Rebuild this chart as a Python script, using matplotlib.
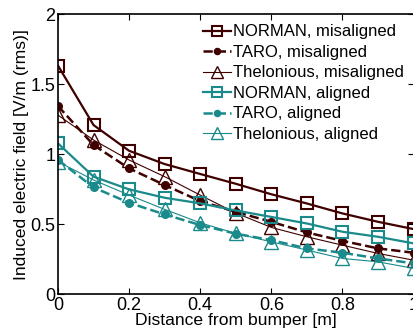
import numpy as np
import matplotlib.pyplot as plt

plt.rcParams['font.family'] = ['Liberation Sans', 'DejaVu Sans']

distance = [0, 0.1, 0.2, 0.3, 0.4, 0.5, 0.6, 0.7, 0.8, 0.9, 1.0]

norman_mis = [1.634, 1.209, 1.025, 0.930, 0.859, 0.789, 0.714, 0.648, 0.577, 0.517, 0.465]
taro_mis = [1.345, 1.066, 0.899, 0.780, 0.665, 0.588, 0.517, 0.441, 0.381, 0.327, 0.296]
thel_mis = [1.280, 1.102, 0.959, 0.840, 0.708, 0.580, 0.477, 0.410, 0.350, 0.291, 0.243]
norman_al = [1.078, 0.840, 0.749, 0.689, 0.649, 0.598, 0.552, 0.505, 0.446, 0.410, 0.363]
taro_al = [0.960, 0.763, 0.653, 0.570, 0.494, 0.432, 0.386, 0.327, 0.296, 0.255, 0.220]
thel_al = [0.947, 0.816, 0.708, 0.606, 0.510, 0.434, 0.374, 0.315, 0.255, 0.231, 0.184]

labels = ['NORMAN, misaligned', 'TARO, misaligned', 'Thelonious, misaligned',
          'NORMAN, aligned', 'TARO, aligned', 'Thelonious, aligned']

maroon = '#3f0000'
teal = '#1a8a8a'

fig = plt.figure(figsize=(4.14, 3.35), dpi=100)
ax = fig.add_axes([0.140, 0.122, 0.859, 0.835])

series = [norman_mis, taro_mis, thel_mis, norman_al, taro_al, thel_al]
colors = [maroon, maroon, maroon, teal, teal, teal]
styles = [
    dict(ls='-', lw=1.6, marker='s', ms=9, mfc='none', mew=1.5),
    dict(ls='--', lw=1.8, marker='o', ms=5.5, mew=1),
    dict(ls='-', lw=0.8, marker='^', ms=10, mfc='none', mew=1),
]

for i, vals in enumerate(series):
    st = dict(styles[i % 3])
    c = colors[i]
    if st['marker'] == 'o':
        st['mfc'] = c
    ax.plot(distance, vals, color=c, mec=c, label=labels[i], **st)

ax.set_xlim(0, 1)
ax.set_ylim(0, 2)
ax.set_xticks([0, 0.2, 0.4, 0.6, 0.8, 1])
ax.set_xticklabels(['0', '0.2', '0.4', '0.6', '0.8', '1'])
ax.set_yticks([0, 0.5, 1, 1.5, 2])
ax.set_yticklabels(['0', '0.5', '1', '1.5', '2'])
ax.tick_params(direction='in', top=True, right=True, labelsize=13, length=4, pad=2)
for sp in ax.spines.values():
    sp.set_linewidth(1.2)

ax.set_xlabel('Distance from bumper [m]', fontsize=12.6, labelpad=-1)
ax.set_ylabel('Induced electric field [V/m (rms)]', fontsize=12.6, labelpad=1)

ax.legend(loc='upper right', fontsize=12, frameon=False, handlelength=1.7,
          handletextpad=0.1, labelspacing=0.33, borderaxespad=0.2, markerscale=0.8)

fig.savefig('out.png', dpi=100)
